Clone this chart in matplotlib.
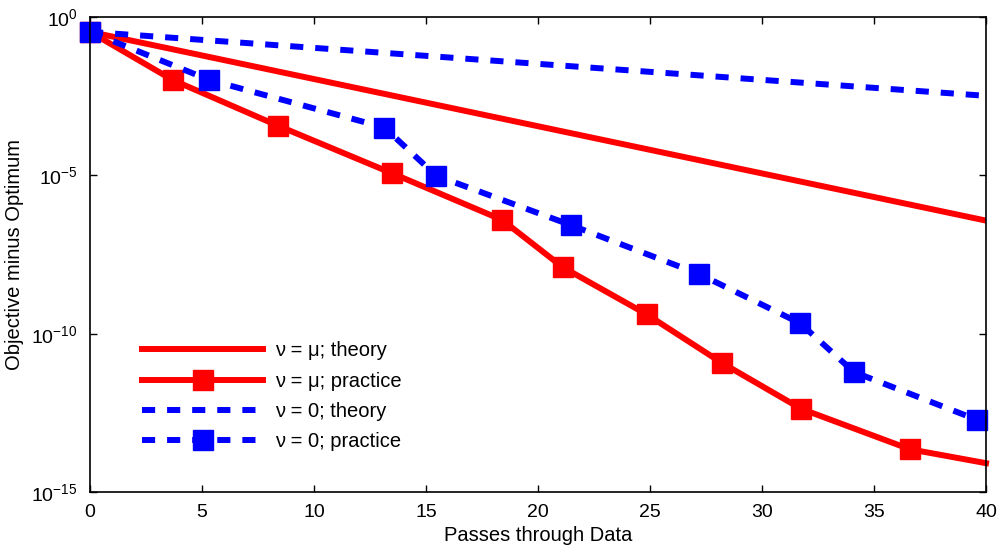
import numpy as np
import matplotlib.pyplot as plt
from matplotlib.ticker import FixedLocator, NullLocator

plt.rcParams['font.family'] = ['Liberation Sans', 'DejaVu Sans']
plt.rcParams['mathtext.fontset'] = 'custom'
plt.rcParams['mathtext.rm'] = 'Liberation Sans'
plt.rcParams['mathtext.it'] = 'Liberation Sans:italic'

# theory: straight lines on the log scale (start / end)
theory_x = [0, 40]
mu_theory_log = [-0.47, -6.43]
zero_theory_log = [-0.47, -2.49]

# practice curves (log10 of objective minus optimum)
mu_prac_x = [0, 3.69, 8.41, 13.5, 18.4, 21.1, 24.85, 28.2, 31.74, 36.6, 40]
mu_prac_log = [-0.47, -1.99, -3.44, -4.94, -6.41, -7.90, -9.39, -10.92, -12.37, -13.65, -14.09]
zero_prac_x = [0, 5.33, 13.14, 15.45, 21.46, 27.2, 31.7, 34.1, 39.6]
zero_prac_log = [-0.47, -1.99, -3.49, -5.01, -6.57, -8.12, -9.67, -11.21, -12.72]

red = '#ff0000'
blue = '#0000ff'
lw = 4.3
dash = (2.2, 2.0)

fig = plt.figure(figsize=(10.05, 5.48), dpi=100)
ax = fig.add_axes([0.0896, 0.1022, 0.8915, 0.8668])

ax.plot(theory_x, 10.0 ** np.array(mu_theory_log), color=red, lw=lw,
        label='ν = μ; theory')
ax.plot(mu_prac_x, 10.0 ** np.array(mu_prac_log), color=red, lw=lw,
        marker='s', ms=15, markevery=list(range(len(mu_prac_x) - 1)),
        label='ν = μ; practice', clip_on=False)
ax.plot(theory_x, 10.0 ** np.array(zero_theory_log), color=blue, lw=lw,
        dashes=dash, dash_capstyle='butt', label='ν = 0; theory')
ax.plot(zero_prac_x, 10.0 ** np.array(zero_prac_log), color=blue, lw=lw,
        dashes=dash, dash_capstyle='butt', marker='s', ms=14,
        label='ν = 0; practice', clip_on=False)

ax.set_yscale('log')
ax.set_xlim(0, 40)
ax.set_ylim(1e-15, 1)
ax.set_xticks(range(0, 41, 5))
ax.yaxis.set_major_locator(FixedLocator([1e-15, 1e-10, 1e-5, 1]))
ax.yaxis.set_minor_locator(NullLocator())
ax.tick_params(direction='in', length=5, width=1, top=True, right=True,
               labelsize=14, pad=9)
for s in ax.spines.values():
    s.set_linewidth(1.2)

ax.set_xlabel('Passes through Data', fontsize=14.5, labelpad=3)
ax.set_ylabel('Objective minus Optimum', fontsize=14.5, labelpad=5)

ax.legend(loc='upper left', bbox_to_anchor=(0.038, 0.355), frameon=False,
          fontsize=14.5, handlelength=6.0, handletextpad=0.6,
          labelspacing=0.55)

fig.savefig('out.png', dpi=100)
